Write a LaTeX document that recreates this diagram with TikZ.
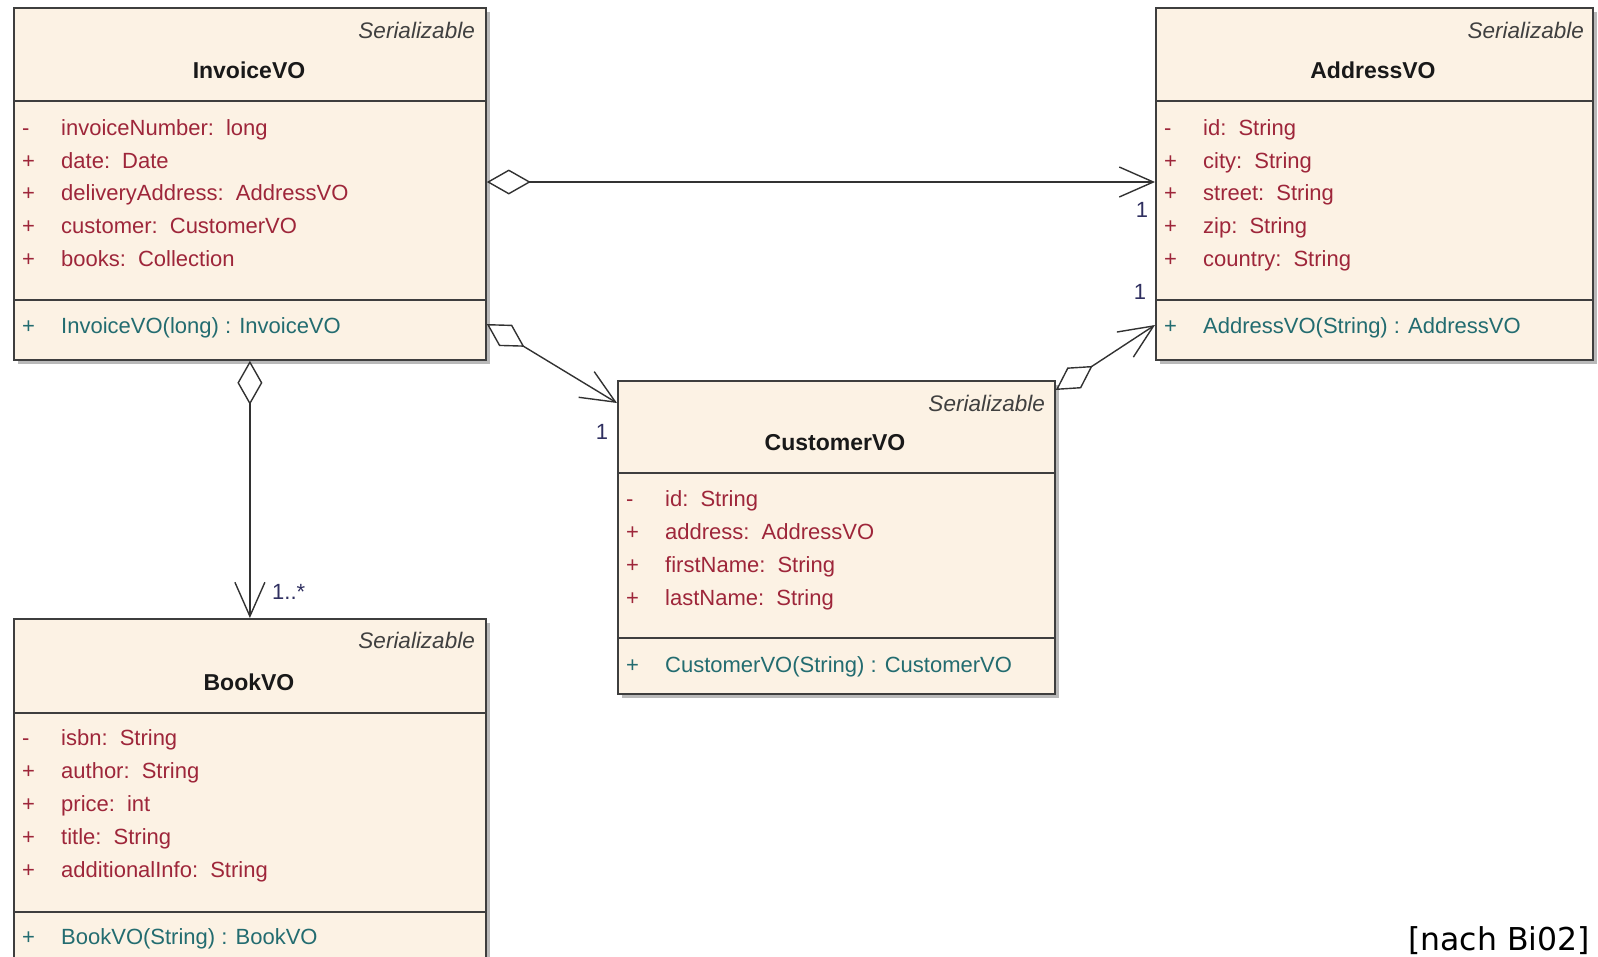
\documentclass[tikz,border=0pt]{standalone}
\usepackage{fontspec}
\setmainfont{Liberation Sans}
\newfontfamily\notefont{DejaVu Sans}
\usetikzlibrary{arrows.meta,shadows}

\definecolor{clsfill}{RGB}{252,242,228}
\definecolor{clsline}{RGB}{62,62,62}
\definecolor{connline}{RGB}{50,50,50}
\definecolor{attrcol}{RGB}{158,38,58}
\definecolor{opcol}{RGB}{35,108,112}
\definecolor{multcol}{RGB}{48,48,96}

\newcommand{\gap}{\hspace{0.55em}}

\begin{document}
\begin{tikzpicture}[x=1pt,y=-1pt,
    cls/.style={rectangle, draw=clsline, line width=1.8pt, fill=clsfill, inner sep=0pt, anchor=north west,
      drop shadow={shadow xshift=4pt, shadow yshift=-4pt, fill=black!50, opacity=.55}},
    divider/.style={draw=clsline, line width=1.8pt},
    clsname/.style={anchor=base, inner sep=0pt, font=\fontsize{23}{27}\selectfont\bfseries, text=black!90},
    stereo/.style={anchor=base east, inner sep=0pt, font=\fontsize{22.5}{26}\selectfont\itshape, text=black!75},
    member/.style={anchor=base west, inner sep=0pt, font=\fontsize{22}{26}\selectfont},
    mult/.style={inner sep=0pt, font=\fontsize{22}{25}\selectfont, text=multcol},
    aggr/.style={draw=connline, line width=1.4pt,
      {Diamond[open, length=44pt, width=25pt]}-{Straight Barb[length=34pt, width=30pt]}}]
    \path[use as bounding box, clip] (0,0) rectangle (1598,956);

    % class boxes
    \node[cls, minimum width=472pt, minimum height=352pt] (invoice) at (13,7) {};
    \node[cls, minimum width=437pt, minimum height=352pt] (address) at (1155,7) {};
    \node[cls, minimum width=437pt, minimum height=313pt] (customer) at (617,380) {};
    \node[cls, minimum width=472pt, minimum height=420pt] (book) at (13,618) {};

    \draw[divider] ([yshift=-94]invoice.north west) -- ([yshift=-94]invoice.north east);
    \draw[divider] ([yshift=-293]invoice.north west) -- ([yshift=-293]invoice.north east);
    \draw[divider] ([yshift=-94]address.north west) -- ([yshift=-94]address.north east);
    \draw[divider] ([yshift=-293]address.north west) -- ([yshift=-293]address.north east);
    \draw[divider] ([yshift=-93]customer.north west) -- ([yshift=-93]customer.north east);
    \draw[divider] ([yshift=-258]customer.north west) -- ([yshift=-258]customer.north east);
    \draw[divider] ([yshift=-95]book.north west) -- ([yshift=-95]book.north east);
    \draw[divider] ([yshift=-294]book.north west) -- ([yshift=-294]book.north east);

    % InvoiceVO
    \node[stereo] (invoice-st) at (475,38) {Serializable};
    \node[clsname] (invoice-name) at (249,78) {InvoiceVO};
    \foreach \vis/\txt [count=\i] in {-/invoiceNumber:\gap long, +/date:\gap Date,
        +/deliveryAddress:\gap AddressVO, +/customer:\gap CustomerVO, +/books:\gap Collection} {
        \node[member, text=attrcol] (invoice-v\i) at (22,{135.5+32.7*(\i-1)}) {\vis};
        \node[member, text=attrcol] (invoice-a\i) at (61,{135.5+32.7*(\i-1)}) {\txt};
    }
    \node[member, text=opcol] (invoice-ov) at (22,333) {+};
    \node[member, text=opcol] (invoice-op) at (61,333) {InvoiceVO(long) : InvoiceVO};

    % AddressVO
    \node[stereo] (address-st) at (1584,38) {Serializable};
    \node[clsname] (address-name) at (1373,78) {AddressVO};
    \foreach \vis/\txt [count=\i] in {-/id:\gap String, +/city:\gap String, +/street:\gap String,
        +/zip:\gap String, +/country:\gap String} {
        \node[member, text=attrcol] (address-v\i) at (1164,{135.5+32.7*(\i-1)}) {\vis};
        \node[member, text=attrcol] (address-a\i) at (1203,{135.5+32.7*(\i-1)}) {\txt};
    }
    \node[member, text=opcol] (address-ov) at (1164,333) {+};
    \node[member, text=opcol] (address-op) at (1203,333) {AddressVO(String) : AddressVO};

    % CustomerVO
    \node[stereo] (customer-st) at (1045,411) {Serializable};
    \node[clsname] (customer-name) at (835,450) {CustomerVO};
    \foreach \vis/\txt [count=\i] in {-/id:\gap String, +/address:\gap AddressVO,
        +/firstName:\gap String, +/lastName:\gap String} {
        \node[member, text=attrcol] (customer-v\i) at (626,{506+33*(\i-1)}) {\vis};
        \node[member, text=attrcol] (customer-a\i) at (665,{506+33*(\i-1)}) {\txt};
    }
    \node[member, text=opcol] (customer-ov) at (626,672) {+};
    \node[member, text=opcol] (customer-op) at (665,672) {CustomerVO(String) : CustomerVO};

    % BookVO
    \node[stereo] (book-st) at (475,648) {Serializable};
    \node[clsname] (book-name) at (249,690) {BookVO};
    \foreach \vis/\txt [count=\i] in {-/isbn:\gap String, +/author:\gap String, +/price:\gap int,
        +/title:\gap String, +/additionalInfo:\gap String} {
        \node[member, text=attrcol] (book-v\i) at (22,{745+33*(\i-1)}) {\vis};
        \node[member, text=attrcol] (book-a\i) at (61,{745+33*(\i-1)}) {\txt};
    }
    \node[member, text=opcol] (book-ov) at (22,944) {+};
    \node[member, text=opcol] (book-op) at (61,944) {BookVO(String) : BookVO};

    % associations
    \draw[aggr] ([yshift=-175]invoice.north east) -- ([yshift=-175]address.north west);
    \draw[aggr] ([yshift=-317]invoice.north east) -- ([yshift=-23]customer.north west);
    \draw[aggr] ([yshift=-10]customer.north east) -- ([yshift=-318]address.north west);
    \draw[aggr] (invoice.south) -- (book.north);

    \node[mult] (m-address1) at (1142,210) {1};
    \node[mult] (m-address2) at (1140,292) {1};
    \node[mult] (m-customer) at (602,432) {1};
    \node[mult, anchor=west] (m-book) at (272,592) {1..*};

    \node[anchor=base east, inner sep=0pt, font=\notefont\fontsize{31.5}{36}\selectfont] (source) at (1590,950) {[nach Bi02]};
\end{tikzpicture}
\end{document}
